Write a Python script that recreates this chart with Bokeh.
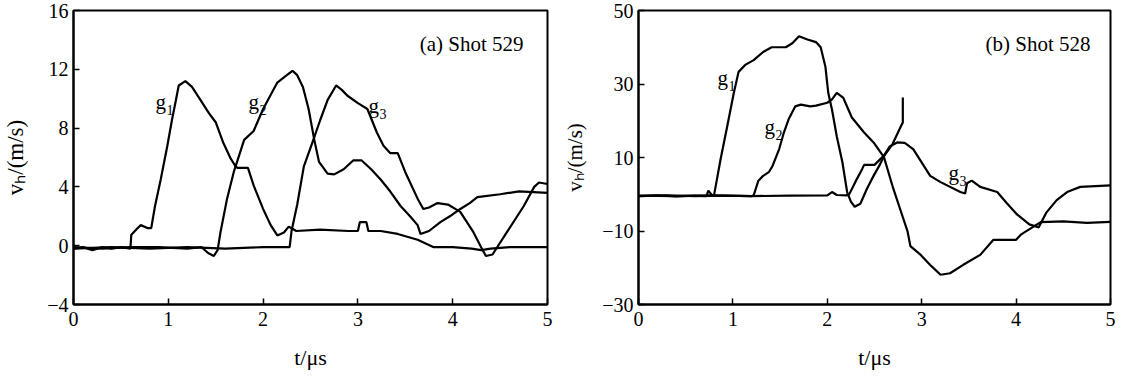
from bokeh.plotting import figure
from bokeh.models import Range1d, FixedTicker, Label
from bokeh.layouts import row
from bokeh.embed import file_html
from bokeh.resources import INLINE

# ---------------- data: panel (a) Shot 529 ----------------
a_g1_t = [0, 0.1, 0.2, 0.3, 0.4, 0.5, 0.6, 0.61, 0.67, 0.71, 0.78, 0.82, 0.86, 0.92, 0.99, 1.04, 1.08, 1.11,
          1.18, 1.25, 1.34, 1.43, 1.5, 1.58, 1.66, 1.71, 1.73, 1.84, 1.9, 2.0, 2.08, 2.15, 2.22, 2.27, 2.35,
          2.6, 2.9, 3.0, 3.02, 3.09, 3.11, 3.24, 3.42, 3.63, 3.8, 4.0, 4.2, 4.3, 4.4, 4.6, 5.0]
a_g1_v = [-0.2, -0.1, -0.3, -0.1, -0.2, -0.1, -0.2, 0.75, 1.15, 1.4, 1.2, 1.2, 2.7, 4.5, 6.8, 8.6, 9.9, 10.9,
          11.2, 10.8, 9.9, 9.0, 8.4, 7.0, 5.9, 5.4, 5.3, 5.3, 4.1, 2.5, 1.4, 0.7, 0.9, 1.3, 1.0,
          1.1, 1.0, 1.0, 1.6, 1.6, 1.0, 1.0, 0.8, 0.4, -0.1, -0.1, -0.2, -0.3, -0.2, -0.1, -0.1]

a_g2_t = [0, 0.3, 0.6, 0.9, 1.2, 1.35, 1.42, 1.48, 1.52, 1.55, 1.62, 1.69, 1.75, 1.8, 1.9, 2.0, 2.15, 2.25,
          2.31, 2.36, 2.42, 2.48, 2.54, 2.59, 2.68, 2.75, 2.85, 2.95, 3.04, 3.14, 3.24, 3.34, 3.45, 3.55,
          3.63, 3.66, 3.75, 3.87, 3.97, 4.08, 4.18, 4.26, 4.5, 4.7, 5.0]
a_g2_v = [-0.1, -0.2, -0.1, -0.1, -0.2, -0.1, -0.5, -0.7, -0.3, 0.9, 3.2, 5.0, 6.2, 7.2, 7.8, 9.3, 11.1, 11.6,
          11.9, 11.6, 10.8, 9.3, 7.2, 5.7, 4.9, 4.85, 5.2, 5.8, 5.8, 5.2, 4.5, 3.7, 2.7, 2.0,
          1.4, 0.8, 1.0, 1.6, 2.0, 2.5, 2.9, 3.3, 3.5, 3.7, 3.6]

a_g3_t = [0, 0.4, 0.8, 1.2, 1.6, 2.0, 2.28, 2.3, 2.36, 2.43, 2.53, 2.6, 2.68, 2.77, 2.83, 2.89, 3.0, 3.1, 3.2,
          3.27, 3.34, 3.42, 3.5, 3.63, 3.69, 3.75, 3.84, 3.95, 4.08, 4.22, 4.3, 4.35, 4.42, 4.57, 4.75, 4.86,
          4.91, 5.0]
a_g3_v = [-0.2, -0.1, -0.2, -0.1, -0.2, -0.1, -0.1, 1.0, 2.8, 5.4, 7.2, 8.5, 9.9, 10.9, 10.6, 10.2, 9.7, 9.3, 7.7,
          6.8, 6.3, 6.3, 5.0, 3.2, 2.5, 2.6, 2.9, 2.8, 2.3, 0.9, -0.1, -0.7, -0.6, 0.9, 2.7, 4.0,
          4.3, 4.2]

# ---------------- data: panel (b) Shot 528 ----------------
b_g1_t = [0, 0.2, 0.4, 0.6, 0.72, 0.74, 0.78, 0.8, 0.87, 0.94, 1.01, 1.06, 1.13, 1.22, 1.32, 1.41, 1.56, 1.63,
          1.7, 1.79, 1.88, 1.93, 1.98, 2.01, 2.05, 2.1, 2.16, 2.21, 2.25, 2.29, 2.35, 2.42, 2.49, 2.56, 2.6,
          2.69, 2.78, 2.8, 2.8]
b_g1_v = [-0.5, -0.3, -0.6, -0.4, -0.5, 1.0, -0.3, -0.3, 9.6, 18.5, 27.6, 33.3, 35.2, 36.5, 38.7, 40.0, 40.0, 41.1,
          43.0, 42.1, 41.4, 40.0, 34.7, 27.6, 23.0, 15.8, 8.7, 0.6, -2.0, -3.4, -2.6, 1.5, 5.0, 8.2, 10.4,
          13.6, 18.5, 19.5, 26.3]

b_g2_t = [0, 0.3, 0.6, 0.9, 1.2, 1.22, 1.27, 1.32, 1.38, 1.42, 1.49, 1.54, 1.59, 1.66, 1.72, 1.82, 1.88, 2.0,
          2.05, 2.1, 2.17, 2.26, 2.39, 2.49, 2.6, 2.69, 2.78, 2.85, 2.88, 2.99, 3.1, 3.2, 3.3, 3.44, 3.62,
          3.76, 4.0, 4.05, 4.26, 4.5, 4.75, 5.0]
b_g2_v = [-0.5, -0.3, -0.5, -0.4, -0.5, -0.3, 3.7, 5.0, 6.0, 7.7, 12.3, 16.8, 20.4, 23.9, 24.4, 23.9, 24.1, 24.9,
          25.8, 27.6, 26.2, 20.9, 16.8, 14.1, 10.1, 2.3, -4.7, -10.1, -14.1, -16.5, -19.5, -21.9, -21.5, -19.2,
          -16.5, -12.4, -12.4, -11.0, -7.6, -7.4, -7.8, -7.5]

b_g3_t = [0, 0.4, 0.8, 1.2, 1.6, 2.0, 2.05, 2.1, 2.2, 2.23, 2.3, 2.37, 2.39, 2.5, 2.6, 2.66, 2.74, 2.82, 2.91,
          3.09, 3.2, 3.41, 3.46, 3.48, 3.53, 3.62, 3.8, 3.9, 4.01, 4.14, 4.24, 4.32, 4.43, 4.54, 4.68, 5.0]
b_g3_v = [-0.4, -0.5, -0.3, -0.5, -0.4, -0.3, 0.6, -0.2, -0.3, -0.1, 3.5, 6.9, 8.0, 8.0, 10.5, 13.0, 14.1, 14.0,
          12.3, 5.0, 3.3, 0.6, 0.2, 3.0, 3.7, 2.0, 0.6, -2.4, -5.5, -8.2, -9.0, -5.0, -1.6, 0.6, 2.0, 2.4]

a_yticks = [-4, 0, 4, 8, 12, 16]
b_yticks = [-30, -10, 10, 30, 50]
xticks = [0, 1, 2, 3, 4, 5]
a_title = "(a) Shot 529"
b_title = "(b) Shot 528"
x_label = "t/\u03bcs"
y_label = "v\u2095/(m/s)"

FONT = "Liberation Serif"
TICK_SIZE = "20px"


def make_fig(width, bl, br, yr, yticks, ylab_standoff, ylab_size):
    p = figure(width=width, height=372, output_backend="svg", toolbar_location=None,
               x_range=Range1d(0, 5), y_range=Range1d(*yr),
               min_border_left=bl, min_border_right=br, min_border_top=10, min_border_bottom=66)
    p.grid.visible = False
    p.background_fill_color = "white"
    p.border_fill_color = "white"
    p.outline_line_color = "black"
    p.outline_line_width = 2
    p.outline_line_alpha = 1.0
    p.xaxis.ticker = FixedTicker(ticks=xticks)
    p.yaxis.ticker = FixedTicker(ticks=yticks)
    p.yaxis.major_label_overrides = {t: ("\u2212" + str(abs(t)) if t < 0 else str(t)) for t in yticks}
    for ax in (p.xaxis[0], p.yaxis[0]):
        ax.axis_line_width = 2
        ax.axis_line_color = "black"
        ax.major_tick_in = 6
        ax.major_tick_out = 0
        ax.major_tick_line_width = 1.5
        ax.minor_tick_in = 0
        ax.minor_tick_out = 0
        ax.major_label_text_font = FONT
        ax.major_label_text_font_size = TICK_SIZE
        ax.major_label_text_color = "black"
        ax.axis_label_text_font = FONT
        ax.axis_label_text_font_style = "normal"
        ax.axis_label_text_color = "black"
    p.xaxis.axis_label_text_font_size = "22px"
    p.yaxis.axis_label_text_font_size = ylab_size
    p.xaxis.major_label_standoff = 7
    p.yaxis.major_label_standoff = 5
    p.xaxis.axis_label = x_label
    p.yaxis.axis_label = y_label
    p.xaxis.axis_label_standoff = 16
    p.yaxis.axis_label_standoff = ylab_standoff
    return p


def lab(p, x, y, text, size, align="left"):
    p.add_layout(Label(x=x, y=y, text=text, text_font=FONT, text_font_size=size,
                       text_align=align, text_baseline="alphabetic", text_color="black"))


# ---------------- panel (a) ----------------
pa = make_fig(560, 73, 13, (-4, 16), a_yticks, 16, "23px")
for t, v in ((a_g1_t, a_g1_v), (a_g2_t, a_g2_v), (a_g3_t, a_g3_v)):
    pa.line(t, v, line_color="black", line_width=2.2)

lab(pa, 4.747, 13.7, a_title, "21px", align="right")
for gx, gy, sx, sy, s in ((0.865, 9.78, 0.981, 9.24, "1"), (1.846, 9.78, 1.962, 9.24, "2"),
                          (3.112, 9.51, 3.228, 8.97, "3")):
    lab(pa, gx, gy, "g", "21px")
    lab(pa, sx, sy, s, "14px")

# ---------------- panel (b) ----------------
pb = make_fig(561, 78, 11, (-30, 50), b_yticks, 12, "21px")
for t, v in ((b_g1_t, b_g1_v), (b_g2_t, b_g2_v), (b_g3_t, b_g3_v)):
    pb.line(t, v, line_color="black", line_width=2.2)

lab(pb, 4.788, 40.8, b_title, "21px", align="right")
for gx, gy, sx, sy, s in ((0.837, 31.7, 0.953, 29.5, "1"), (1.335, 18.2, 1.451, 16.05, "2"),
                          (3.284, 5.82, 3.40, 3.66, "3")):
    lab(pb, gx, gy, "g", "21px")
    lab(pb, sx, sy, s, "14px")

layout = row(pa, pb)
open("out.html", "w").write(file_html(layout, INLINE))
